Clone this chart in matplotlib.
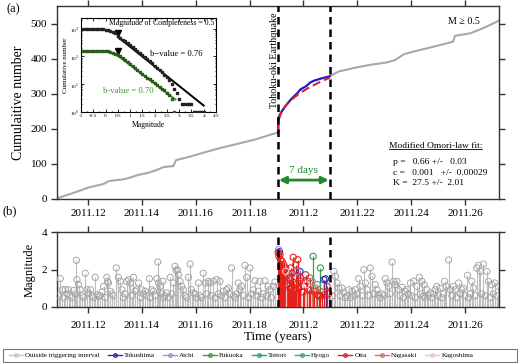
import matplotlib
matplotlib.use("Agg")
import matplotlib.pyplot as plt
from matplotlib.lines import Line2D
from matplotlib.patches import Rectangle
from matplotlib.ticker import MultipleLocator
import numpy as np

plt.rcParams['font.family'] = ['Liberation Serif', 'DejaVu Serif']
plt.rcParams['mathtext.fontset'] = 'custom'
plt.rcParams['mathtext.rm'] = 'Liberation Serif'

# ---------------- data ----------------
xticks = [2011.12, 2011.14, 2011.16, 2011.18, 2011.20, 2011.22, 2011.24, 2011.26]
xticklabels = ["2011.12", "2011.14", "2011.16", "2011.18", "2011.2", "2011.22", "2011.24", "2011.26"]
t_quake = 2011.1906
t_end7 = 2011.2097

# cumulative number (grey, before and after the 7-day window)
cum_t_before = [2011.1085, 2011.1141, 2011.1203, 2011.1258, 2011.1277, 2011.1338, 2011.1388, 2011.1425,
                2011.1456, 2011.1480, 2011.1517, 2011.1527, 2011.1579, 2011.1641, 2011.1703, 2011.1764,
                2011.1826, 2011.1875, 2011.1906]
cum_n_before = [2, 16, 33, 43, 51, 57, 69, 75, 83, 91, 94, 111, 121, 135, 148, 159, 171, 183, 190]
cum_t_after = [2011.2097, 2011.2131, 2011.2199, 2011.2248, 2011.2310, 2011.2341, 2011.2372, 2011.2409,
               2011.2458, 2011.2520, 2011.2555, 2011.2563, 2011.2619, 2011.2668, 2011.2726]
cum_n_after = [350, 364, 376, 383, 390, 397, 413, 421, 430, 442, 449, 466, 473, 488, 509]
# observed cumulative within 7 days (blue)
obs_t = [2011.1906, 2011.1906, 2011.1912, 2011.1921, 2011.1940, 2011.1958, 2011.1977, 2011.1989,
         2011.2010, 2011.2026, 2011.2040, 2011.2057, 2011.2075, 2011.2097]
obs_n = [190, 230, 240, 252, 272, 288, 302, 313, 322, 333, 338, 342, 346, 350]
# modified Omori-law fit (red dashed)
fit_t = [2011.1906, 2011.1909, 2011.1920, 2011.1933, 2011.1961, 2011.1988, 2011.2016, 2011.2043,
         2011.2070, 2011.2097]
fit_n = [190, 228, 252, 266, 287, 303, 316, 327, 337, 346]

# inset: frequency-magnitude distribution
inset_mag = [-0.9, -0.8, -0.7, -0.6, -0.5, -0.4, -0.3, -0.2, -0.1, 0.0, 0.1, 0.2, 0.3, 0.4, 0.5,
             0.6, 0.7, 0.8, 0.9, 1.0, 1.1, 1.2, 1.3, 1.4, 1.5, 1.6, 1.7, 1.8, 1.9, 2.0, 2.1, 2.2,
             2.3, 2.4, 2.5, 2.6, 2.7, 2.8, 2.9, 3.0, 3.1, 3.2, 3.3, 3.4, 3.5, 3.6, 3.7, 3.8, 3.9, 4.0]
inset_all = [950, 950, 950, 950, 949, 948, 946, 943, 936, 922, 895, 850, 780, 680, 560,
             470, 400, 345, 300, 255, 215, 185, 160, 135, 112, 95, 80, 67, 56, 47, 39, 33,
             27, 22, 18, 14, 10, 7, 5, 3, 2, 2, 2, 2, 2, 1, 1, 1, 1, 1]
inset_mag_trig = [-0.9, -0.8, -0.7, -0.6, -0.5, -0.4, -0.3, -0.2, -0.1, 0.0, 0.1, 0.2, 0.3, 0.4,
                  0.5, 0.6, 0.7, 0.8, 0.9, 1.0, 1.1, 1.2, 1.3, 1.4, 1.5, 1.6, 1.7, 1.8, 1.9, 2.0,
                  2.1, 2.2, 2.3, 2.4, 2.5, 2.6, 2.7, 2.8]
inset_trig = [162, 162, 162, 162, 161, 161, 160, 159, 157, 154, 150, 144, 136, 126,
              114, 100, 86, 74, 63, 54, 46, 39, 33, 28, 24, 20, 17, 15, 13, 11,
              9, 8, 7, 6, 5, 4, 3, 1]
fit_all_m = [0.5, 4.0]
fit_all_n = [500, 1.7]
fit_trig_m = [0.5, 2.85]
fit_trig_n = [105, 2.8]
mc_all = (0.5, 720)
mc_trig = (0.5, 150)

# panel (b): events outside the triggering interval
out_t = [2011.1091, 2011.1097, 2011.1104, 2011.1110, 2011.1116, 2011.1122, 2011.1128, 2011.1134,
         2011.1141, 2011.1147, 2011.1153, 2011.1157, 2011.1159, 2011.1165, 2011.1171, 2011.1178,
         2011.1184, 2011.1190, 2011.1196, 2011.1202, 2011.1209, 2011.1215, 2011.1221, 2011.1227,
         2011.1233, 2011.1239, 2011.1246, 2011.1252, 2011.1258, 2011.1264, 2011.1270, 2011.1273,
         2011.1276, 2011.1283, 2011.1289, 2011.1295, 2011.1305, 2011.1313, 2011.1320, 2011.1326,
         2011.1332, 2011.1338, 2011.1344, 2011.1351, 2011.1357, 2011.1363, 2011.1369, 2011.1375,
         2011.1381, 2011.1388, 2011.1394, 2011.1400, 2011.1406, 2011.1412, 2011.1418, 2011.1428,
         2011.1431, 2011.1437, 2011.1443, 2011.1449, 2011.1456, 2011.1459, 2011.1462, 2011.1468,
         2011.1474, 2011.1478, 2011.1480, 2011.1486, 2011.1493, 2011.1499, 2011.1505, 2011.1511,
         2011.1517, 2011.1523, 2011.1527, 2011.1532, 2011.1536, 2011.1542, 2011.1548, 2011.1554,
         2011.1560, 2011.1567, 2011.1573, 2011.1579, 2011.1585, 2011.1591, 2011.1598, 2011.1604,
         2011.1610, 2011.1616, 2011.1622, 2011.1628, 2011.1635, 2011.1641, 2011.1647, 2011.1653,
         2011.1659, 2011.1665, 2011.1672, 2011.1678, 2011.1684, 2011.1690, 2011.1696, 2011.1702,
         2011.1709, 2011.1715, 2011.1721, 2011.1727, 2011.1733, 2011.1740, 2011.1746, 2011.1752,
         2011.1758, 2011.1764, 2011.1770, 2011.1777, 2011.1783, 2011.1789, 2011.1795, 2011.1801,
         2011.1807, 2011.1814, 2011.1820, 2011.1826, 2011.1832, 2011.1838, 2011.1845, 2011.1851,
         2011.1857, 2011.1863, 2011.1869, 2011.1875, 2011.1881, 2011.1888, 2011.1894,
         2011.2106, 2011.2113, 2011.2119, 2011.2125, 2011.2131, 2011.2137, 2011.2143, 2011.2150,
         2011.2156, 2011.2162, 2011.2168, 2011.2174, 2011.2180, 2011.2187, 2011.2193, 2011.2199,
         2011.2205, 2011.2211, 2011.2217, 2011.2224, 2011.2230, 2011.2236, 2011.2242, 2011.2248,
         2011.2254, 2011.2261, 2011.2267, 2011.2273, 2011.2279, 2011.2285, 2011.2292, 2011.2298,
         2011.2304, 2011.2310, 2011.2316, 2011.2322, 2011.2329, 2011.2335, 2011.2341, 2011.2347,
         2011.2353, 2011.2359, 2011.2366, 2011.2372, 2011.2378, 2011.2384, 2011.2390, 2011.2397,
         2011.2403, 2011.2409, 2011.2415, 2011.2421, 2011.2430, 2011.2434, 2011.2440, 2011.2446,
         2011.2448, 2011.2452, 2011.2458, 2011.2464, 2011.2471, 2011.2477, 2011.2483, 2011.2489,
         2011.2495, 2011.2501, 2011.2508, 2011.2514, 2011.2520, 2011.2524, 2011.2530, 2011.2539,
         2011.2545, 2011.2551, 2011.2557, 2011.2563, 2011.2569, 2011.2576, 2011.2582, 2011.2588,
         2011.2594, 2011.2600, 2011.2609, 2011.2613, 2011.2619, 2011.2625, 2011.2631, 2011.2637,
         2011.2644, 2011.2650, 2011.2656, 2011.2662, 2011.2668, 2011.2674, 2011.2681, 2011.2687,
         2011.2693, 2011.2699, 2011.2705, 2011.2711, 2011.2718, 2011.2724]
out_m = [0.6, 1.51, 0.92, 0.5, 0.92, 0.7, 0.92, 0.6, 0.5, 0.88, 0.7, 2.49, 1.46, 1.19, 0.92, 0.6,
         0.5, 1.8, 0.92, 0.75, 0.92, 0.6, 0.5, 1.58, 0.66, 0.57, 0.6, 0.8, 1.1, 0.5, 1.58, 1.37,
         1.28, 0.84, 0.7, 0.6, 2.08, 1.58, 1.37, 0.92, 0.5, 0.7, 1.37, 1.46, 1.28, 0.6, 1.58, 0.84,
         0.92, 1.28, 0.5, 0.92, 0.7, 0.84, 0.6, 1.51, 0.5, 0.92, 0.84, 0.6, 1.51, 2.4, 1.28, 1.1,
         0.7, 1.37, 0.5, 0.6, 0.75, 0.5, 1.58, 0.7, 1.28, 2.17, 1.94, 1.99, 1.72, 1.37, 1.1, 0.92,
         0.6, 0.5, 1.58, 2.29, 0.92, 0.75, 0.7, 0.5, 1.28, 0.6, 0.5, 1.8, 1.28, 0.7, 1.37, 1.28,
         0.6, 1.37, 0.5, 1.46, 0.7, 1.37, 0.6, 0.84, 0.5, 0.92, 1.01, 0.7, 2.08, 0.6, 0.5, 0.7,
         1.28, 0.92, 1.1, 0.6, 2.22, 1.58, 0.5, 2.08, 0.7, 0.92, 1.4, 0.6, 0.84, 1.37, 0.5, 0.7,
         1.4, 0.6, 1.1, 0.92, 0.5, 1.1, 1.33,
         0.6, 1.9, 1.63, 1.28, 1.01, 0.6, 1.01, 0.75, 0.5, 0.6, 0.92, 0.5, 0.84, 0.6, 0.92, 0.7,
         1.51, 1.1, 0.6, 1.99, 1.28, 0.92, 0.6, 2.08, 1.63, 0.7, 1.19, 0.92, 0.66, 0.5, 0.7, 0.6,
         1.51, 1.28, 1.1, 0.7, 2.4, 1.37, 1.19, 1.37, 0.92, 0.6, 1.05, 0.5, 0.84, 0.92, 0.7, 1.28,
         0.6, 1.37, 0.5, 1.1, 1.58, 0.7, 1.37, 0.6, 1.19, 0.5, 0.92, 0.6, 0.75, 0.5, 0.7, 0.92,
         1.1, 0.6, 1.01, 0.5, 0.7, 1.37, 1.1, 2.51, 0.92, 0.6, 1.1, 0.92, 0.5, 1.28, 0.7, 0.92,
         1.01, 0.6, 1.69, 0.5, 0.7, 1.37, 1.01, 0.6, 2.08, 2.22, 1.9, 0.7, 2.29, 0.6, 1.9, 1.37,
         0.5, 1.19, 0.7, 1.28, 0.6, 1.1]

# panel (b): events inside the 7-day triggering interval, by region
region_names = ["Tokushima", "Aichi", "Fukuoka", "Tottori", "Hyogo", "Oita", "Nagasaki", "Kagoshima"]
region_colors = ["#2b2bb0", "#a58fd6", "#3c9a50", "#2f9e84", "#3aa58a", "#e8201c", "#cc7a66", "#f3c2c8"]
trig_t = {
    "Tokushima": [2011.1911, 2011.1987, 2011.2076, 2011.2082],
    "Aichi": [2011.1908, 2011.1955, 2011.1977],
    "Fukuoka": [2011.2036, 2011.2063],
    "Tottori": [2011.2024],
    "Hyogo": [2011.2051],
    "Oita": [2011.1906, 2011.1909, 2011.1913, 2011.1915, 2011.1918, 2011.1921, 2011.1925, 2011.1927,
             2011.1930, 2011.1934, 2011.1937, 2011.1940, 2011.1942, 2011.1946, 2011.1950, 2011.1952,
             2011.1958, 2011.1962, 2011.1964, 2011.1967, 2011.1971, 2011.1974, 2011.1979, 2011.1983,
             2011.1987, 2011.1989, 2011.1999, 2011.2002, 2011.2008, 2011.2014, 2011.2020, 2011.2026,
             2011.2039, 2011.2051, 2011.2057, 2011.2063, 2011.2069, 2011.2076, 2011.2088, 2011.2094],
    "Nagasaki": [2011.2032, 2011.2045],
    "Kagoshima": [2011.1934, 2011.2011],
}
trig_m = {
    "Tokushima": [2.95, 1.9, 1.46, 1.5],
    "Aichi": [3.06, 1.72, 1.9],
    "Fukuoka": [2.7, 2.08],
    "Tottori": [1.55],
    "Hyogo": [1.2],
    "Oita": [2.9, 2.7, 2.8, 2.52, 2.2, 2.43, 1.9, 2.25, 1.6, 2.08, 1.4, 1.72, 1.2, 1.55,
             1.0, 2.08, 1.8, 2.65, 1.3, 0.9, 2.25, 1.2, 2.52, 1.0, 1.4, 1.55, 0.8, 1.1, 1.72,
             1.37, 0.9, 0.92, 0.84, 0.66, 0.6, 0.57, 0.8, 0.66, 1.1, 0.7],
    "Nagasaki": [1.37, 1.0],
    "Kagoshima": [1.9, 1.19],
}

# ---------------- figure ----------------
fig = plt.figure(figsize=(5.2, 3.64), dpi=100)
spine_c = "#333333"

ax1 = fig.add_axes([0.1096, 0.4533, 0.85, 0.5302])
ax2 = fig.add_axes([0.1096, 0.1566, 0.85, 0.2060])

for ax in (ax1, ax2):
    ax.set_xlim(2011.1085, 2011.2726)
    ax.set_xticks(xticks)
    ax.set_xticklabels(xticklabels)
    ax.tick_params(direction='out', top=True, right=True, length=4, width=1,
                   labelsize=8, colors=spine_c, labelcolor='black', pad=3)
    for s in ax.spines.values():
        s.set_color(spine_c)
        s.set_linewidth(1.0)
    ax.axvline(t_quake, color='black', lw=1.8, ls=(0, (3, 2)), zorder=5)
    ax.axvline(t_end7, color='black', lw=1.8, ls=(0, (3, 2)), zorder=5)
ax2.tick_params(axis='x', pad=6)

# panel (a)
ax1.set_ylim(0, 551)
ax1.set_yticks([0, 100, 200, 300, 400, 500])
ax1.plot(cum_t_before, cum_n_before, color='#a8a8a8', lw=1.5, zorder=2)
ax1.plot(cum_t_after, cum_n_after, color='#a8a8a8', lw=1.5, zorder=2)
ax1.plot(obs_t, obs_n, color='#1a1acc', lw=1.6, zorder=3)
ax1.plot(fit_t, fit_n, color='#dd2222', lw=1.5, ls=(0, (4, 2)), zorder=4)
ax1.set_ylabel("Cumulaitive number", fontsize=10, labelpad=4)
ax1.text(2011.2595, 508, "M ≥ 0.5", fontsize=7.2, ha='center', va='center')
ax1.text(t_quake - 0.0012, 397, "Tohoku-oki Earthquake", rotation=90, fontsize=7.2,
         ha='center', va='center')
ax1.annotate('', xy=(t_quake + 0.0003, 54), xytext=(t_end7 - 0.0003, 54),
             arrowprops=dict(arrowstyle='<|-|>', color='#1f8a2a', lw=2.0,
                             mutation_scale=10, shrinkA=0, shrinkB=0))
ax1.text((t_quake + t_end7) / 2, 82, "7 days", fontsize=8, color='#1f8a2a',
         ha='center', va='center')
omori_title = ax1.text(2011.2316, 151, "Modified Omori-law fit:", fontsize=6.8,
                       ha='left', va='center')
ax1.text(2011.2331, 106, "p =   0.66 +/-   0.03", fontsize=6.8, ha='left', va='center')
ax1.text(2011.2331, 75, "c =   0.001   +/-  0.00029", fontsize=6.8, ha='left', va='center')
ax1.text(2011.2331, 45, "K =  27.5 +/-  2.01", fontsize=6.8, ha='left', va='center')
fig.text(0.012, 0.965, "(a)", fontsize=9)
fig.text(0.004, 0.41, "(b)", fontsize=9)

# panel (b)
ax2.set_ylim(0, 4)
ax2.set_yticks([0, 2, 4])
ax2.vlines(out_t, 0, out_m, color='#bdbdbd', lw=0.8, zorder=2)
ax2.scatter(out_t, out_m, s=20, facecolors='none', edgecolors='#a6a6a6', linewidths=0.7, zorder=3)
for name, c in zip(region_names, region_colors):
    ax2.vlines(trig_t[name], 0, trig_m[name], color=c, lw=0.9, zorder=3)
    ax2.scatter(trig_t[name], trig_m[name], s=20, facecolors='none', edgecolors=c,
                linewidths=0.8, zorder=4)
ax2.set_ylabel("Magnitude", fontsize=9, labelpad=4)
ax2.set_xlabel("Time (years)", fontsize=9.5, labelpad=1)

# inset
axi = fig.add_axes([0.1558, 0.6923, 0.2596, 0.2582])
axi.set_yscale('log')
axi.set_xlim(-1, 4.5)
axi.set_ylim(1, 2400)
axi.plot(inset_mag, inset_all, ls='none', marker='s', ms=1.5, color='#222222', zorder=3)
axi.plot(inset_mag_trig, inset_trig, ls='none', marker='s', ms=1.5,
         mfc='#3a7a2a', mec='#2a5a1a', zorder=3)
axi.plot(fit_all_m, fit_all_n, color='black', lw=1.4, zorder=2)
axi.plot(fit_trig_m, fit_trig_n, color='#3a9a2a', lw=1.4, zorder=2)
axi.plot([mc_all[0]], [mc_all[1]], marker='v', ms=4, color='black', ls='none')
axi.plot([mc_trig[0]], [mc_trig[1]], marker='v', ms=4, color='black', ls='none')
axi.set_xticks([-1, -0.5, 0, 0.5, 1, 1.5, 2, 2.5, 3, 3.5, 4, 4.5])
axi.set_xticklabels(["-1", "-0.5", "0", "0.5", "1", "1.5", "2", "2.5", "3", "3.5", "4", "4.5"])
axi.set_yticks([1, 10, 100, 1000])
axi.set_yticklabels([r"$10^0$", r"$10^1$", r"$10^2$", r"$10^3$"])
axi.tick_params(which='both', direction='in', top=True, right=True, labelsize=3.8, pad=1.5,
                length=2, width=0.6)
axi.tick_params(which='minor', length=1)
axi.xaxis.set_minor_locator(MultipleLocator(0.25))
for s in axi.spines.values():
    s.set_linewidth(0.8)
axi.set_xlabel("Magnitude", fontsize=5.5, labelpad=2)
axi.set_ylabel("Cumulative number", fontsize=5, labelpad=1)
axi.text(4.45, 1650, "Magnitude of Completeness = 0.5", fontsize=5.6, ha='right', va='center')
axi.text(2.87, 120, "b\u2212value = 0.76", fontsize=6.2, ha='center', va='center')
axi.text(0.92, 5.5, "b-value = 0.70", fontsize=6.2, ha='center', va='center', color='#3a9a2a')

# legend
handles = [Line2D([0], [0], color='#c8c8c8', marker='o', mfc='none', ms=2.5, lw=1)]
labels = ["Outside triggering interval"]
for name, c in zip(region_names, region_colors):
    handles.append(Line2D([0], [0], color=c, marker='o', mfc='none', ms=2.5, lw=1))
    labels.append(name)
leg = fig.legend(handles, labels, loc='lower left', bbox_to_anchor=(0.006, 0.0),
                 ncol=9, fontsize=5, frameon=False, handlelength=2.0,
                 handletextpad=0.3, columnspacing=1.2, borderpad=0.35)
fig.patches.append(Rectangle((3 / 520, 2 / 364), 514 / 520, 13 / 364, transform=fig.transFigure,
                             fill=False, edgecolor='#777777', lw=0.8))

# underline the Omori title
fig.canvas.draw()
bb = omori_title.get_window_extent().transformed(fig.transFigure.inverted())
fig.add_artist(Line2D([bb.x0, bb.x1], [bb.y0 + 0.002, bb.y0 + 0.002], color='black', lw=0.6,
                      transform=fig.transFigure))

fig.savefig("out.png", dpi=100)
